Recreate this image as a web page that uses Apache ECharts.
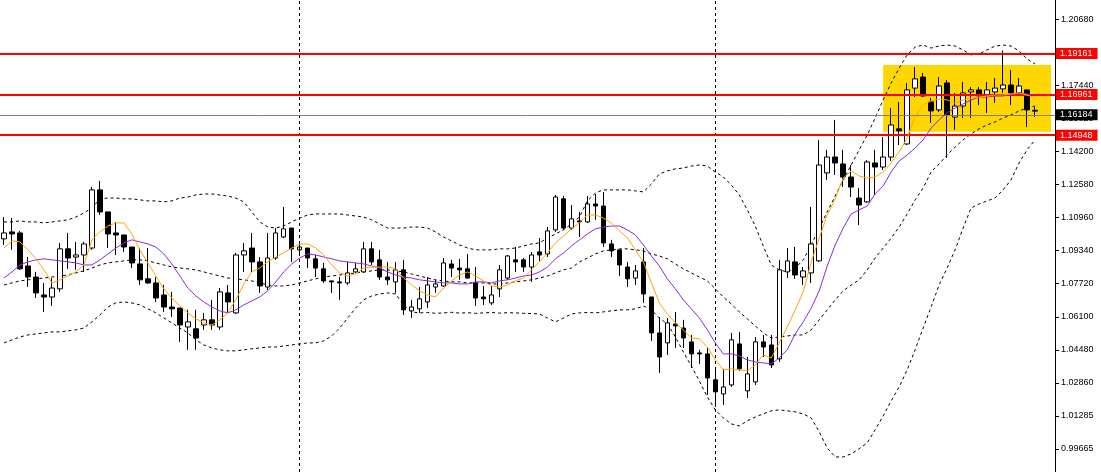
<!DOCTYPE html>
<html><head><meta charset="utf-8">
<script src="https://cdn.jsdelivr.net/npm/echarts@6/dist/echarts.min.js"></script>
<style>html,body{margin:0;padding:0;background:#fff}#c{width:1101px;height:472px}</style>
</head><body><div id="c"></div>
<script>
// candle index labels (130 candles + 2 empty slots for the chart shift)
const categories = Array.from({length: 132}, (_, i) => String(i));

// [open, close, low, high]
const candles = [
[1.0992,1.1021,1.0962,1.1099],[1.1026,1.1016,1.0938,1.1094],[1.1021,1.0845,1.0840,1.1031],[1.0859,1.0805,1.0756,1.0903],[1.0805,1.0727,1.0702,1.0830],
[1.0717,1.0707,1.0634,1.0776],[1.0707,1.0751,1.0663,1.0800],[1.0747,1.0943,1.0732,1.0972],[1.0943,1.0898,1.0845,1.1021],[1.0903,1.0913,1.0840,1.0977],
[1.0913,1.0967,1.0830,1.0977],[1.0947,1.1232,1.0938,1.1246],[1.1232,1.1124,1.1109,1.1276],[1.1124,1.1016,1.0947,1.1124],[1.1021,1.1011,1.0913,1.1075],
[1.1011,1.0952,1.0928,1.1011],[1.0952,1.0874,1.0849,1.0952],[1.0869,1.0791,1.0766,1.0947],[1.0796,1.0776,1.0771,1.0947],[1.0776,1.0702,1.0683,1.0805],
[1.0717,1.0658,1.0634,1.0766],[1.0658,1.0649,1.0609,1.0732],[1.0653,1.0570,1.0487,1.0653],[1.0560,1.0585,1.0448,1.0644],[1.0551,1.0506,1.0448,1.0644],
[1.0570,1.0595,1.0546,1.0629],[1.0595,1.0570,1.0546,1.0693],[1.0560,1.0732,1.0546,1.0751],[1.0727,1.0683,1.0629,1.0766],[1.0629,1.0913,1.0624,1.0923],
[1.0913,1.0933,1.0830,1.0972],[1.0947,1.0879,1.0830,1.1021],[1.0879,1.0761,1.0727,1.0903],[1.0756,1.0898,1.0742,1.1021],[1.0898,1.1021,1.0889,1.1045],
[1.1001,1.1041,1.0996,1.1148],[1.1045,1.0943,1.0879,1.1045],[1.0938,1.0952,1.0913,1.0977],[1.0947,1.0898,1.0849,1.0947],[1.0894,1.0849,1.0805,1.0913],
[1.0845,1.0786,1.0776,1.0874],[1.0786,1.0781,1.0727,1.0786],[1.0781,1.0776,1.0693,1.0805],[1.0776,1.0825,1.0766,1.0879],[1.0830,1.0845,1.0825,1.0874],
[1.0830,1.0943,1.0825,1.0977],[1.0943,1.0879,1.0864,1.0977],[1.0889,1.0805,1.0791,1.0938],[1.0805,1.0791,1.0766,1.0879],[1.0781,1.0840,1.0727,1.0879],
[1.0840,1.0644,1.0619,1.0889],[1.0639,1.0658,1.0604,1.0693],[1.0649,1.0698,1.0629,1.0756],[1.0683,1.0766,1.0653,1.0805],[1.0756,1.0771,1.0727,1.0791],
[1.0761,1.0874,1.0756,1.0898],[1.0869,1.0849,1.0805,1.0889],[1.0849,1.0840,1.0791,1.0894],[1.0845,1.0800,1.0796,1.0918],[1.0776,1.0702,1.0663,1.0854],
[1.0707,1.0698,1.0668,1.0761],[1.0678,1.0717,1.0668,1.0761],[1.0747,1.0840,1.0707,1.0864],[1.0800,1.0908,1.0791,1.0913],[1.0889,1.0879,1.0830,1.0952],
[1.0889,1.0854,1.0830,1.0898],[1.0854,1.0913,1.0781,1.0928],[1.0928,1.0913,1.0884,1.0996],[1.0918,1.1031,1.0903,1.1050],[1.1036,1.1197,1.1026,1.1207],
[1.1188,1.1045,1.1036,1.1202],[1.1045,1.1090,1.1036,1.1158],[1.1080,1.1075,1.1001,1.1124],[1.1075,1.1163,1.1070,1.1202],[1.1163,1.1153,1.1085,1.1212],
[1.1153,1.0972,1.0952,1.1222],[1.0967,1.0933,1.0903,1.0987],[1.0938,1.0864,1.0810,1.0938],[1.0854,1.0796,1.0756,1.0879],[1.0800,1.0835,1.0766,1.0864],
[1.0879,1.0722,1.0678,1.0947],[1.0707,1.0531,1.0492,1.0707],[1.0531,1.0413,1.0335,1.0609],[1.0482,1.0580,1.0423,1.0604],[1.0575,1.0565,1.0457,1.0634],
[1.0555,1.0506,1.0457,1.0595],[1.0487,1.0428,1.0359,1.0521],[1.0433,1.0428,1.0379,1.0448],[1.0428,1.0310,1.0227,1.0457],[1.0301,1.0242,1.0168,1.0359],
[1.0232,1.0266,1.0178,1.0355],[1.0276,1.0497,1.0266,1.0531],[1.0477,1.0355,1.0345,1.0536],[1.0247,1.0330,1.0212,1.0413],[1.0291,1.0487,1.0276,1.0511],
[1.0487,1.0462,1.0413,1.0521],[1.0472,1.0374,1.0359,1.0521],[1.0404,1.0840,1.0389,1.0889],[1.0830,1.0884,1.0800,1.0947],[1.0879,1.0815,1.0796,1.0952],
[1.0805,1.0835,1.0766,1.0854],[1.0825,1.0967,1.0776,1.1148],[1.0884,1.1354,1.0879,1.1477],[1.1315,1.1393,1.1281,1.1428],[1.1393,1.1364,1.1305,1.1575],
[1.1359,1.1295,1.1246,1.1428],[1.1295,1.1246,1.1197,1.1354],[1.1192,1.1158,1.1060,1.1241],[1.1173,1.1369,1.1168,1.1379],[1.1364,1.1344,1.1207,1.1428],
[1.1344,1.1393,1.1330,1.1491],[1.1393,1.1550,1.1374,1.1633],[1.1531,1.1521,1.1452,1.1663],[1.1457,1.1722,1.1452,1.1756],[1.1731,1.1776,1.1687,1.1834],
[1.1785,1.1692,1.1687,1.1805],[1.1663,1.1619,1.1560,1.1682],[1.1624,1.1741,1.1614,1.1785],[1.1756,1.1599,1.1388,1.1771],[1.1589,1.1643,1.1526,1.1707],
[1.1643,1.1707,1.1584,1.1761],[1.1712,1.1722,1.1584,1.1736],[1.1722,1.1692,1.1648,1.1736],[1.1697,1.1722,1.1609,1.1761],[1.1712,1.1731,1.1658,1.1780],
[1.1727,1.1746,1.1707,1.1916],[1.1746,1.1707,1.1648,1.1820],[1.1707,1.1741,1.1697,1.1780],[1.1722,1.1624,1.1540,1.1722],[1.1622,1.1618,1.1589,1.1638]
];

const maFast = [1.0947,1.0982,1.0977,1.0938,1.0894,1.0840,1.0776,1.0791,1.0810,1.0830,
1.0864,1.0987,1.1026,1.1055,1.1070,1.1070,1.1016,1.0938,1.0874,1.0810,
1.0747,1.0702,1.0663,1.0629,1.0600,1.0580,1.0570,1.0595,1.0629,1.0693,
1.0771,1.0830,1.0849,1.0879,1.0903,1.0923,1.0947,1.0967,1.0967,1.0947,
1.0913,1.0864,1.0825,1.0810,1.0820,1.0849,1.0854,1.0854,1.0854,1.0845,
1.0800,1.0766,1.0737,1.0717,1.0707,1.0751,1.0786,1.0815,1.0830,1.0810,
1.0786,1.0761,1.0756,1.0766,1.0786,1.0800,1.0840,1.0879,1.0923,1.0972,
1.1006,1.1041,1.1070,1.1109,1.1109,1.1094,1.1070,1.1031,1.0996,1.0938,
1.0879,1.0776,1.0678,1.0624,1.0580,1.0546,1.0506,1.0502,1.0462,1.0399,
1.0350,1.0355,1.0350,1.0345,1.0374,1.0423,1.0408,1.0482,1.0560,1.0644,
1.0732,1.0879,1.0996,1.1109,1.1188,1.1290,1.1325,1.1300,1.1290,1.1295,
1.1320,1.1364,1.1418,1.1486,1.1594,1.1648,1.1668,1.1678,1.1673,1.1658,
1.1673,1.1682,1.1687,1.1692,1.1697,1.1697,1.1702,1.1707,1.1697,1.1682];

const maSlow = [1.0800,1.0830,1.0864,1.0879,1.0889,1.0894,1.0889,1.0884,1.0879,1.0874,
1.0864,1.0864,1.0889,1.0918,1.0947,1.0972,1.0987,1.0977,1.0967,1.0952,
1.0918,1.0869,1.0810,1.0751,1.0712,1.0683,1.0658,1.0639,1.0629,1.0644,
1.0668,1.0688,1.0707,1.0737,1.0781,1.0830,1.0869,1.0898,1.0918,1.0913,
1.0903,1.0894,1.0884,1.0879,1.0874,1.0869,1.0859,1.0849,1.0830,1.0815,
1.0805,1.0800,1.0791,1.0786,1.0781,1.0776,1.0776,1.0771,1.0771,1.0781,
1.0781,1.0776,1.0786,1.0791,1.0800,1.0810,1.0815,1.0830,1.0854,1.0894,
1.0923,1.0957,1.0987,1.1016,1.1041,1.1050,1.1055,1.1055,1.1036,1.1011,
1.0962,1.0908,1.0859,1.0796,1.0747,1.0693,1.0649,1.0604,1.0546,1.0482,
1.0428,1.0428,1.0418,1.0399,1.0389,1.0384,1.0379,1.0408,1.0448,1.0526,
1.0585,1.0653,1.0737,1.0859,1.0962,1.1045,1.1114,1.1134,1.1153,1.1212,
1.1251,1.1320,1.1374,1.1403,1.1437,1.1477,1.1535,1.1575,1.1609,1.1633,
1.1653,1.1673,1.1687,1.1687,1.1692,1.1692,1.1702,1.1707,1.1702,1.1697];

const bbUpper = [1.1075,1.1075,1.1080,1.1075,1.1075,1.1070,1.1075,1.1080,1.1085,1.1099,
1.1119,1.1143,1.1188,1.1192,1.1192,1.1188,1.1188,1.1183,1.1178,1.1178,
1.1173,1.1178,1.1192,1.1197,1.1207,1.1212,1.1212,1.1207,1.1202,1.1192,
1.1173,1.1124,1.1075,1.1050,1.1045,1.1055,1.1075,1.1094,1.1109,1.1114,
1.1114,1.1114,1.1114,1.1109,1.1104,1.1099,1.1085,1.1065,1.1045,1.1045,
1.1045,1.1050,1.1050,1.1045,1.1026,1.1001,1.0982,1.0962,1.0947,1.0938,
1.0938,1.0938,1.0943,1.0943,1.0947,1.0957,1.0967,1.0972,1.0996,1.1016,
1.1036,1.1065,1.1099,1.1178,1.1217,1.1232,1.1232,1.1232,1.1232,1.1227,
1.1222,1.1261,1.1310,1.1325,1.1335,1.1339,1.1349,1.1354,1.1349,1.1320,
1.1295,1.1256,1.1207,1.1134,1.1055,1.0957,1.0864,1.0840,1.0830,1.0849,
1.0889,1.0962,1.1045,1.1124,1.1202,1.1281,1.1354,1.1428,1.1501,1.1584,
1.1673,1.1756,1.1829,1.1893,1.1932,1.1942,1.1927,1.1937,1.1942,1.1937,
1.1918,1.1893,1.1898,1.1918,1.1937,1.1942,1.1937,1.1913,1.1874,1.1849];

const bbMiddle = [1.0766,1.0776,1.0786,1.0791,1.0796,1.0800,1.0805,1.0810,1.0815,1.0825,
1.0835,1.0849,1.0864,1.0874,1.0879,1.0884,1.0889,1.0889,1.0884,1.0874,
1.0864,1.0854,1.0849,1.0845,1.0840,1.0830,1.0820,1.0810,1.0800,1.0796,
1.0791,1.0786,1.0776,1.0766,1.0761,1.0761,1.0766,1.0776,1.0786,1.0796,
1.0805,1.0810,1.0815,1.0820,1.0825,1.0830,1.0835,1.0840,1.0840,1.0835,
1.0830,1.0820,1.0810,1.0800,1.0791,1.0786,1.0781,1.0781,1.0776,1.0776,
1.0776,1.0771,1.0771,1.0776,1.0781,1.0786,1.0791,1.0800,1.0810,1.0825,
1.0840,1.0849,1.0879,1.0898,1.0918,1.0933,1.0938,1.0943,1.0943,1.0938,
1.0933,1.0918,1.0908,1.0894,1.0869,1.0845,1.0825,1.0805,1.0786,1.0747,
1.0707,1.0673,1.0634,1.0600,1.0565,1.0531,1.0506,1.0511,1.0516,1.0521,
1.0521,1.0546,1.0595,1.0644,1.0693,1.0737,1.0766,1.0791,1.0840,1.0898,
1.0947,1.0996,1.1050,1.1114,1.1183,1.1241,1.1320,1.1359,1.1403,1.1442,
1.1477,1.1506,1.1531,1.1550,1.1565,1.1584,1.1599,1.1619,1.1633,1.1643];

const bbLower = [1.0482,1.0497,1.0511,1.0521,1.0526,1.0531,1.0536,1.0536,1.0541,1.0546,
1.0555,1.0585,1.0619,1.0658,1.0678,1.0683,1.0678,1.0668,1.0649,1.0629,
1.0604,1.0580,1.0555,1.0531,1.0497,1.0472,1.0457,1.0448,1.0443,1.0443,
1.0448,1.0453,1.0457,1.0462,1.0462,1.0467,1.0472,1.0477,1.0482,1.0482,
1.0492,1.0516,1.0555,1.0604,1.0653,1.0693,1.0712,1.0722,1.0727,1.0722,
1.0668,1.0634,1.0629,1.0631,1.0627,1.0629,1.0632,1.0628,1.0630,1.0627,
1.0629,1.0631,1.0628,1.0630,1.0629,1.0627,1.0626,1.0624,1.0604,1.0585,
1.0604,1.0624,1.0629,1.0631,1.0629,1.0634,1.0639,1.0644,1.0644,1.0649,
1.0663,1.0644,1.0604,1.0575,1.0511,1.0438,1.0369,1.0296,1.0217,1.0154,
1.0114,1.0085,1.0075,1.0100,1.0119,1.0134,1.0149,1.0154,1.0149,1.0144,
1.0134,1.0114,1.0046,0.9967,0.9923,0.9923,0.9938,0.9963,0.9992,1.0056,
1.0124,1.0198,1.0266,1.0350,1.0448,1.0555,1.0658,1.0766,1.0849,1.0938,
1.1045,1.1143,1.1163,1.1178,1.1192,1.1232,1.1281,1.1364,1.1428,1.1477];

const yTickValues = [1.2068,1.1906,1.1744,1.1582,1.1420,1.1258,1.1096,1.0934,1.0772,1.0610,1.0448,1.0286,1.0124,0.9962];
const yTickLabels = ['1.20680','1.19060','1.17440','1.15820','1.14200','1.12580','1.10960','1.09340','1.07720','1.06100','1.04480','1.02860','1.01285','0.99665'];
const levelValues = [1.19161, 1.16961, 1.14948];
const levelLabels = ['1.19161', '1.16961', '1.14948'];
const currentPrice = 1.16184;
const currentLabel = '1.16184';
const separatorIdx = [37, 89];
const zoneStartIdx = 110, zoneEndIdx = 131;
const zoneTop = 1.1844, zoneBottom = 1.1517;

const FONT = 'Liberation Sans';
const chart = echarts.init(document.getElementById('c'), null, {renderer: 'canvas'});

function lineSeries(name, data, color, dashed, z) {
  return {
    name, type: 'line', data, z, symbol: 'none', showSymbol: false, silent: true,
    lineStyle: {color, width: 1, type: dashed ? [3, 3] : 'solid'}, animation: false
  };
}

const boxLabel = (bg) => ({
  show: true, position: 'end', distance: 1, formatter: '{b}',
  backgroundColor: bg, color: '#fff', fontSize: 9, fontFamily: FONT,
  padding: [1, 5, 1, 4], lineHeight: 9
});

chart.setOption({
  animation: false,
  backgroundColor: '#fff',
  grid: {left: -1, top: 0, width: 1056, bottom: 0, containLabel: false},
  xAxis: {type: 'category', data: categories, boundaryGap: true, show: false},
  yAxis: {
    type: 'value', position: 'right', min: 0.98493, max: 1.21626, scale: true,
    axisLine: {show: true, lineStyle: {color: '#000', width: 1}},
    axisTick: {show: true, length: 4, customValues: yTickValues, lineStyle: {color: '#000'}},
    axisLabel: {
      customValues: yTickValues, color: '#000', fontSize: 9, fontFamily: FONT, margin: 6,
      formatter: (v) => {
        let best = 0, d = 1e9;
        yTickValues.forEach((t, i) => { if (Math.abs(t - v) < d) { d = Math.abs(t - v); best = i; } });
        return yTickLabels[best];
      }
    },
    splitLine: {show: false}
  },
  series: [
    {
      type: 'line', data: [], z: 1, silent: true,
      markArea: {
        silent: true,
        itemStyle: {color: '#FFD700', opacity: 1},
        data: [[{xAxis: zoneStartIdx, yAxis: zoneTop}, {xAxis: zoneEndIdx, yAxis: zoneBottom}]]
      },
      markLine: {
        silent: true, symbol: ['none', 'none'], animation: false,
        label: {show: false},
        data: separatorIdx.map(i => ({xAxis: i, lineStyle: {color: '#000', width: 1, type: [3, 3]}}))
      }
    },
    lineSeries('BB upper', bbUpper, '#000', true, 3),
    lineSeries('BB middle', bbMiddle, '#000', true, 3),
    lineSeries('BB lower', bbLower, '#000', true, 3),
    {
      type: 'candlestick', data: candles, z: 4, barWidth: 5, silent: true,
      itemStyle: {color: '#fff', color0: '#000', borderColor: '#000', borderColor0: '#000', borderWidth: 1}
    },
    lineSeries('MA slow', maSlow, '#8A2BE2', false, 5),
    lineSeries('MA fast', maFast, '#FFA500', false, 6),
    {
      type: 'line', data: [], z: 8, silent: true,
      markLine: {
        silent: true, symbol: ['none', 'none'], animation: false,
        data: [
          {name: currentLabel, yAxis: currentPrice, lineStyle: {color: '#808080', width: 1, type: 'solid'}, label: boxLabel('#000')},
          ...levelValues.map((v, i) => ({name: levelLabels[i], yAxis: v, lineStyle: {color: '#ff0000', width: 2, type: 'solid'}, label: boxLabel('#ff0000')}))
        ]
      }
    }
  ]
});
</script>
</body></html>
